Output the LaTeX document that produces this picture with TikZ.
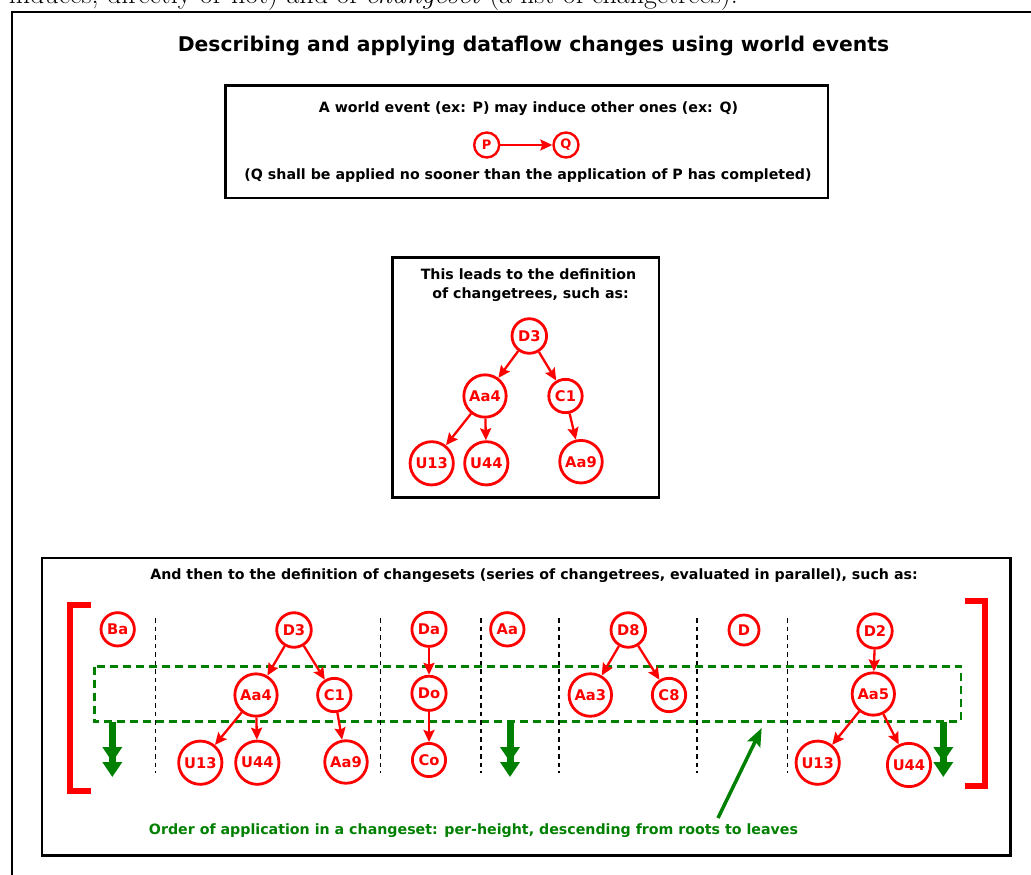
\documentclass[tikz,border=0pt]{standalone}
\usepackage{fontspec}
\newfontfamily\gvfont{DejaVu Sans}
\usetikzlibrary{arrows.meta}
\definecolor{gvgreen}{RGB}{0,128,0}
\tikzset{
  ev/.style={circle,draw=red,line width=2.8pt,text=red,inner sep=3.5pt,minimum size=30pt,
    font=\gvfont\bfseries\fontsize{14.7}{16}\selectfont},
  smallev/.style={ev,line width=2.4pt,inner sep=1.5pt,minimum size=25pt,
    font=\gvfont\bfseries\fontsize{13}{14}\selectfont},
  induce/.style={draw=red,line width=2.3pt,-{Stealth[length=12pt,width=11pt,inset=2pt]}},
  frame/.style={draw,line width=2.6pt},
  treesep/.style={dash pattern=on 4.5pt off 4pt,line width=1.3pt},
  lbl/.style={inner sep=0,font=\gvfont\bfseries\fontsize{14.2}{19}\selectfont},
  order/.style={draw=gvgreen,line width=7pt,
    -{Triangle[length=15pt,width=19pt]Triangle[length=15pt,width=19pt]}},
}
\begin{document}
\begin{tikzpicture}[x=1pt,y=-1pt]
  \useasboundingbox (0,0) rectangle (1031,875);
  \clip (0,0) rectangle (1031,875);
  \node[anchor=base east,inner sep=0,font=\fontsize{28}{32}\selectfont] (intro) at (738,3.5)
    {induces, directly or not) and of \emph{changeset} (a list of changetrees).};
  \draw[line width=2.8pt] (1040,12) -| (12,885);
  \node[lbl,font=\gvfont\bfseries\fontsize{20.3}{24}\selectfont] (title) at (533.5,46)
    {Describing and applying dataflow changes using world events};

  % world events
  \draw[frame] (225.6,85.8) rectangle (828,198);
  \node[lbl] (evtext) at (528.5,109) {A world event (ex: P) may induce other ones (ex: Q)};
  \node[smallev] (P) at (486.7,145) {P};
  \node[smallev] (Q) at (566,145) {Q};
  \draw[induce,line width=2pt] (P) -- (Q);
  \node[lbl] (evnote) at (528,176) {(Q shall be applied no sooner than the application of P has completed)};

  % one changetree
  \draw[frame] (392.5,257.5) rectangle (659,497.7);
  \node[lbl,align=center] (treetext) at (528.5,285)
    {This leads to the definition\\\hspace*{4pt}of changetrees, such as:};
  \node[ev] (tD3) at (529.3,336) {D3};
  \node[ev] (tAa4) at (485,396) {Aa4};
  \node[ev] (tC1) at (565.5,396) {C1};
  \node[ev] (tU13) at (431.7,463.3) {U13};
  \node[ev] (tU44) at (486.3,463.3) {U44};
  \node[ev] (tAa9) at (581,461.7) {Aa9};
  \draw[induce] (tD3) -- (tAa4);
  \draw[induce] (tD3) -- (tC1);
  \draw[induce] (tAa4) -- (tU13);
  \draw[induce] (tAa4) -- (tU44);
  \draw[induce] (tC1) -- (tAa9);

  % changeset
  \draw[frame] (42,557.8) rectangle (1010.5,855.5);
  \node[lbl] (settext) at (534,576)
    {And then to the definition of changesets (series of changetrees, evaluated in parallel), such as:};
  \draw[red,line width=6pt] (91,605) -- (70.3,605) -- (70.3,790.7) -- (91,790.7);
  \draw[red,line width=6pt] (965,601.3) -- (984.7,601.3) -- (984.7,786.3) -- (965,786.3);
  \draw[gvgreen,line width=2.6pt,dash pattern=on 8pt off 5pt] (94.3,666.7) rectangle (961,721.7);
  \draw[treesep] (155.7,618) -- (155.7,773);
  \draw[treesep] (380.7,618) -- (380.7,773);
  \draw[treesep] (481,618) -- (481,773);
  \draw[treesep] (559,618) -- (559,773);
  \draw[treesep] (697,618) -- (697,773);
  \draw[treesep] (787.3,618) -- (787.3,773);

  \node[ev] (sBa) at (117.7,629.3) {Ba};
  \node[ev] (sD3) at (294,630) {D3};
  \node[ev] (sAa4) at (256,695) {Aa4};
  \node[ev] (sC1) at (334.3,695) {C1};
  \node[ev] (sU13) at (200.3,762.7) {U13};
  \node[ev] (sU44) at (257.3,762.7) {U44};
  \node[ev] (sAa9) at (346,762) {Aa9};
  \node[ev] (sDa) at (429,629.3) {Da};
  \node[ev] (sDo) at (429,693.3) {Do};
  \node[ev] (sCo) at (429,760) {Co};
  \node[ev] (sAa) at (507.3,629.3) {Aa};
  \node[ev] (sD8) at (628.3,630) {D8};
  \node[ev] (sAa3) at (590.3,695) {Aa3};
  \node[ev] (sC8) at (669,695) {C8};
  \node[ev] (sD) at (744,630) {D};
  \node[ev] (sD2) at (875,631) {D2};
  \node[ev] (sAa5) at (873.3,694) {Aa5};
  \node[ev] (sU13b) at (817.7,762.7) {U13};
  \node[ev] (sU44b) at (909,765) {U44};
  \draw[induce] (sD3) -- (sAa4);
  \draw[induce] (sD3) -- (sC1);
  \draw[induce] (sAa4) -- (sU13);
  \draw[induce] (sAa4) -- (sU44);
  \draw[induce] (sC1) -- (sAa9);
  \draw[induce] (sDa) -- (sDo);
  \draw[induce] (sDo) -- (sCo);
  \draw[induce] (sD8) -- (sAa3);
  \draw[induce] (sD8) -- (sC8);
  \draw[induce] (sD2) -- (sAa5);
  \draw[induce] (sAa5) -- (sU13b);
  \draw[induce] (sAa5) -- (sU44b);

  % order of application
  \coordinate (down1) at (112.3,721.7);
  \coordinate (down1end) at (112.3,777);
  \coordinate (down2) at (510,721.7);
  \coordinate (down2end) at (510,777);
  \coordinate (down3) at (943.3,721.7);
  \coordinate (down3end) at (943.3,777);
  \draw[order] (down1) -- (down1end);
  \draw[order] (down2) -- (down2end);
  \draw[order] (down3) -- (down3end);
  \node[lbl,text=gvgreen] (ordtext) at (473.5,831)
    {Order of application in a changeset: per-height, descending from roots to leaves};
  \coordinate (ordtail) at (718,818);
  \coordinate (ordtip) at (761.7,728);
  \draw[gvgreen,line width=3.5pt,-{Stealth[length=18pt,width=14pt,inset=3pt]}] (ordtail) -- (ordtip);
\end{tikzpicture}
\end{document}
